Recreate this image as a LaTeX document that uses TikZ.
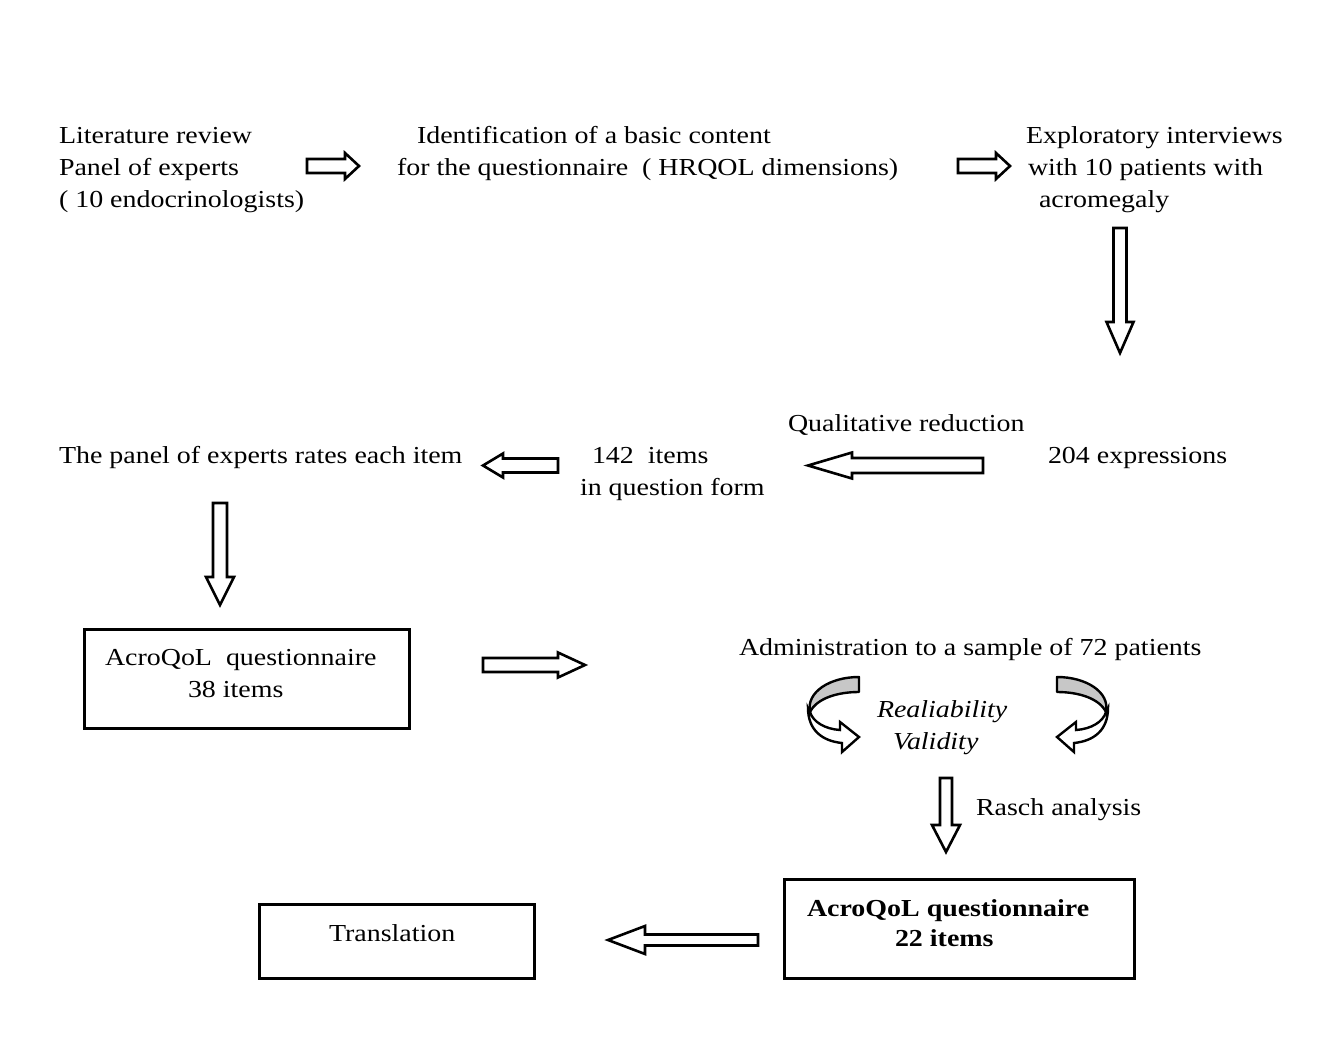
\documentclass[tikz,border=0pt]{standalone}
\usepackage{fontspec}
\setmainfont{Liberation Serif}
\begin{document}
\begin{tikzpicture}[x=1pt,y=-1pt,
  txt/.style={anchor=base west,inner sep=0pt,outer sep=0pt,xscale=1.145,transform shape,
    font=\fontsize{24.4}{32}\selectfont},
  box/.style={draw,line width=2.5pt,inner sep=0pt,minimum width=#1},
  arrowline/.style={draw,line width=2.6pt,fill=white,line join=miter},
  pics/barrow/.style n args={4}{code={
    \draw[arrowline] (0,-#2) -- ({#1-#4},-#2) -- ({#1-#4},-#3) -- (#1,0)
      -- ({#1-#4},#3) -- ({#1-#4},#2) -- (0,#2) -- cycle;}},
  pics/uturn/.style={code={
    \draw[line width=2.4pt,fill=black!22,line join=round]
      (859,677) -- (859,692) .. controls (838,692) and (817,698) .. (810,712)
      .. controls (806,692) and (830,677) .. (859,677) -- cycle;
    \draw[line width=2.4pt,fill=white,line join=miter]
      (808,708) .. controls (808,730) and (822,741) .. (842,743) -- (842,752)
      -- (859,737) -- (840,722) -- (840,730)
      .. controls (825,729) and (813,722) .. (810,712) -- cycle;}}]
\useasboundingbox (0,0) rectangle (1340,1059);

% row 1
\node[txt] (lit1) at (59,144) {Literature review};
\node[txt] (lit2) at (59,176) {Panel of experts};
\node[txt] (lit3) at (59,208) {( 10 endocrinologists)};
\node[txt] (id1) at (417,144) {Identification of a basic content};
\node[txt] (id2) at (397,176) {for the questionnaire\ \ ( HRQOL dimensions)};
\node[txt] (ex1) at (1026,144) {Exploratory interviews};
\node[txt] (ex2) at (1028,176) {with 10 patients with};
\node[txt] (ex3) at (1039,208) {acromegaly};

\coordinate (a1) at (307,166);
\coordinate (a2) at (958,166);
\coordinate (a3) at (1120,228);
\pic at (a1) {barrow={52}{7}{13}{14}};
\pic at (a2) {barrow={52}{7}{13}{14}};
\pic[rotate=-90] at (a3) {barrow={125}{6.5}{13.5}{31}};

% row 2
\node[txt] (qr) at (788,431) {Qualitative reduction};
\node[txt] (expr) at (1048,463) {204 expressions};
\node[txt] (it1) at (592,463) {142\ \ items};
\node[txt] (it2) at (580,495) {in question form};
\node[txt] (rate) at (59,463) {The panel of experts rates each item};

\coordinate (a4) at (983,465.5);
\coordinate (a5) at (558,465.5);
\coordinate (a6) at (220,503);
\pic[rotate=180] at (a4) {barrow={175}{7.5}{13}{44}};
\pic[rotate=180] at (a5) {barrow={75}{7}{12}{20}};
\pic[rotate=-90] at (a6) {barrow={102}{7}{14}{28}};

% row 3
\node[box=325pt,minimum height=99pt,anchor=north west] (q38) at (83,628) {};
\node[txt] (q38a) at (105,665) {AcroQoL\ \ questionnaire};
\node[txt] (q38b) at (188,697) {38 items};

\coordinate (a7) at (483,665);
\pic at (a7) {barrow={102}{7}{12.5}{27}};

\node[txt] (adm) at (739,655) {Administration to a sample of 72 patients};
\pic {uturn};
\pic[xscale=-1,xshift=-1916pt] {uturn};
\node[txt,font=\fontsize{24.4}{32}\selectfont\itshape] (rel) at (877,717) {Realiability};
\node[txt,font=\fontsize{24.4}{32}\selectfont\itshape] (val) at (893,749) {Validity};

\coordinate (a8) at (946,778);
\pic[rotate=-90] at (a8) {barrow={74}{6}{14}{27}};
\node[txt] (rasch) at (976,815) {Rasch analysis};

\node[box=350pt,minimum height=99pt,anchor=north west] (q22) at (783,878) {};
\node[txt,font=\fontsize{24.4}{32}\selectfont\bfseries] (q22a) at (807,916) {AcroQoL questionnaire};
\node[txt,font=\fontsize{24.4}{32}\selectfont\bfseries] (q22b) at (895,946) {22 items};

\coordinate (a9) at (758,940);
\pic[rotate=180] at (a9) {barrow={150}{5.5}{14}{37}};

\node[box=275pt,minimum height=74pt,anchor=north west] (tr) at (258,903) {};
\node[txt] (trt) at (329,941) {Translation};
\end{tikzpicture}
\end{document}
